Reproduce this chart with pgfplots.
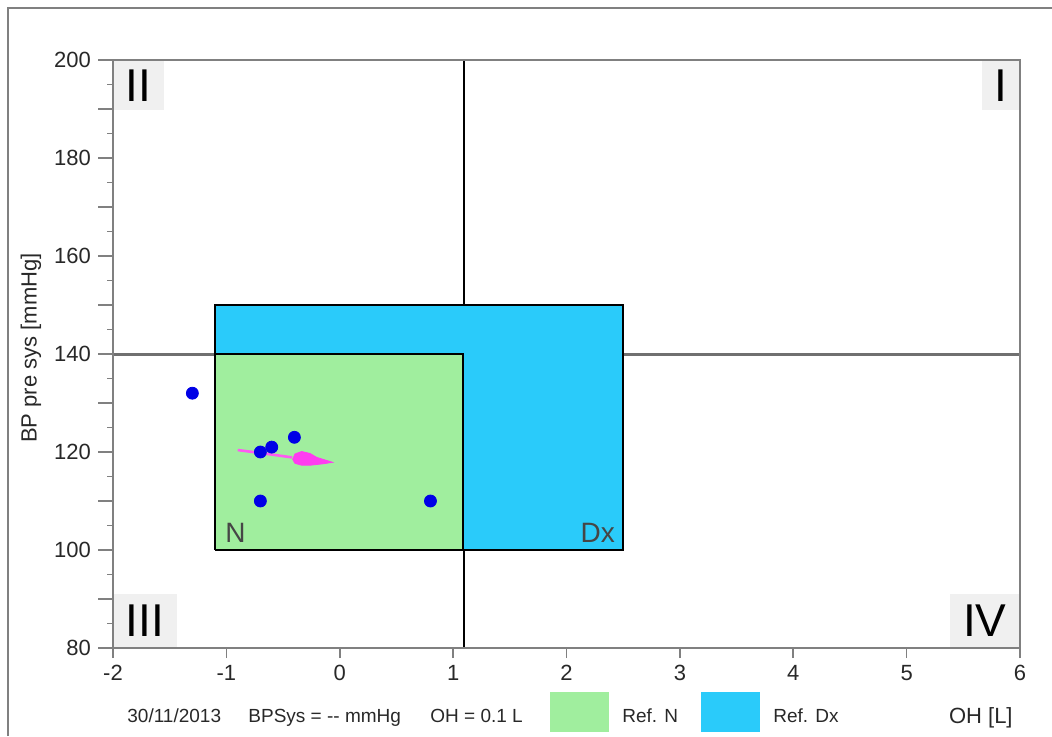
\documentclass[border=0pt]{standalone}
\usepackage{fontspec}
\setmainfont{Liberation Sans}
\usepackage{pgfplots}
\pgfplotsset{compat=1.18}
\definecolor{refN}{RGB}{160,238,158}
\definecolor{refDx}{RGB}{42,203,250}
\definecolor{axgray}{RGB}{128,128,128}
\definecolor{hgray}{RGB}{112,112,112}
\definecolor{qbg}{RGB}{240,240,240}
\definecolor{ptblue}{RGB}{0,0,230}
\definecolor{mag}{RGB}{255,60,240}
\definecolor{txt}{RGB}{40,40,40}
\definecolor{lbl}{RGB}{70,70,70}
\begin{document}
\begin{tikzpicture}
\path[use as bounding box] (0,0) rectangle (526pt,368pt);
\draw[axgray, line width=1pt] (4pt,0) -- (4pt,364pt) -- (526pt,364pt);
\begin{axis}[
  at={(56.5pt,44pt)}, anchor=south west,
  scale only axis, width=453.5pt, height=294pt,
  xmin=-2, xmax=6, ymin=80, ymax=200,
  axis on top,
  tick pos=left,
  xtick=\empty,
  extra x ticks={-2,-1,0,1,2,3,4,5,6},
  extra x tick style={major tick length=5pt, tick pos=left},
  minor xtick={-1.5,-0.5,0.5,1.5,2.5,3.5,4.5,5.5},
  ytick={80,90,...,200},
  yticklabels={80,,100,,120,,140,,160,,180,,200},
  minor ytick={85,95,...,195},
  tick align=outside,
  major tick length=7.5pt,
  minor tick length=3pt,
  tick style={axgray, line width=0.8pt},
  axis line style={axgray, line width=1pt},
  tick label style={font=\fontsize{11}{13}\selectfont, text=txt},
  /pgf/number format/assume math mode=true,
  clip=false,
]
\addplot[hgray, line width=1.5pt] coordinates {(-2,140) (6,140)};
\addplot[black, line width=1pt] coordinates {(1.1,80) (1.1,200)};
\addplot[fill=refDx, draw=black, line width=1pt] coordinates {(-1.1,100) (2.5,100) (2.5,150) (-1.1,150) (-1.1,100)};
\addplot[fill=refN, draw=black, line width=1pt] coordinates {(-1.1,100) (1.085,100) (1.085,140) (-1.1,140) (-1.1,100)};
\addplot[only marks, mark=*, mark size=3pt, color=ptblue] coordinates {(-1.3,132) (-0.7,120) (-0.6,121) (-0.4,123) (-0.7,110) (0.8,110)};
\addplot[mag!85!white, line width=1.3pt] coordinates {(-0.9,120.4) (-0.7,119.8) (-0.42,118.9)};
\addplot[fill=mag, draw=mag, line width=0.4pt] coordinates {(-0.415,118.5) (-0.395,119.6) (-0.336,120.1) (-0.262,119.7) (-0.203,118.9) (-0.063,117.9) (-0.145,117.6) (-0.262,117.3) (-0.336,117.3) (-0.395,117.7) (-0.415,118.5)};
\node[anchor=south west, inner sep=0pt, text=lbl, font=\fontsize{14}{14}\selectfont] at (axis cs:-1.1,100) [xshift=5pt, yshift=3.5pt] {N};
\node[anchor=south east, inner sep=0pt, text=lbl, font=\fontsize{14}{14}\selectfont] at (axis cs:2.5,100) [xshift=-4pt, yshift=3.5pt] {Dx};
\node[fill=qbg, anchor=north west, inner xsep=6.2pt, inner ysep=0pt, minimum height=25pt, font=\fontsize{23}{23}\selectfont] at (rel axis cs:0,1) {II};
\node[fill=qbg, anchor=north east, inner xsep=6.2pt, inner ysep=0pt, minimum height=25pt, font=\fontsize{23}{23}\selectfont] at (rel axis cs:1,1) {I};
\node[fill=qbg, anchor=south west, inner xsep=6.2pt, inner ysep=0pt, minimum height=27pt, font=\fontsize{23}{23}\selectfont] at (rel axis cs:0,0) {III};
\node[fill=qbg, anchor=south east, inner xsep=6.5pt, inner ysep=0pt, minimum height=27pt, font=\fontsize{23}{23}\selectfont] at (rel axis cs:1,0) {IV};
\end{axis}
\node[rotate=90, text=txt, font=\fontsize{11}{13}\selectfont] at (15.5pt,194pt) {BP pre sys [mmHg]};
\node[anchor=base east, inner sep=0pt, text=txt, font=\fontsize{11}{13}\selectfont] at (506.5pt,6.5pt) {OH [L]};
\node[anchor=base west, inner sep=0pt, text=txt, font=\fontsize{9.5}{11}\selectfont] at (63.5pt,7pt) {30/11/2013};
\node[anchor=base west, inner sep=0pt, text=txt, font=\fontsize{9.5}{11}\selectfont] at (124pt,7pt) {BPSys = {-}{-} mmHg};
\node[anchor=base west, inner sep=0pt, text=txt, font=\fontsize{9.5}{11}\selectfont] at (215pt,7pt) {OH = 0.1 L};
\fill[refN] (275pt,2pt) rectangle (304.5pt,22pt);
\node[anchor=base west, inner sep=0pt, text=txt, font=\fontsize{9.5}{11}\selectfont] at (311pt,7pt) {Ref. N};
\fill[refDx] (350.5pt,2pt) rectangle (380pt,22pt);
\node[anchor=base west, inner sep=0pt, text=txt, font=\fontsize{9.5}{11}\selectfont] at (386.5pt,7pt) {Ref. Dx};
\end{tikzpicture}
\end{document}
